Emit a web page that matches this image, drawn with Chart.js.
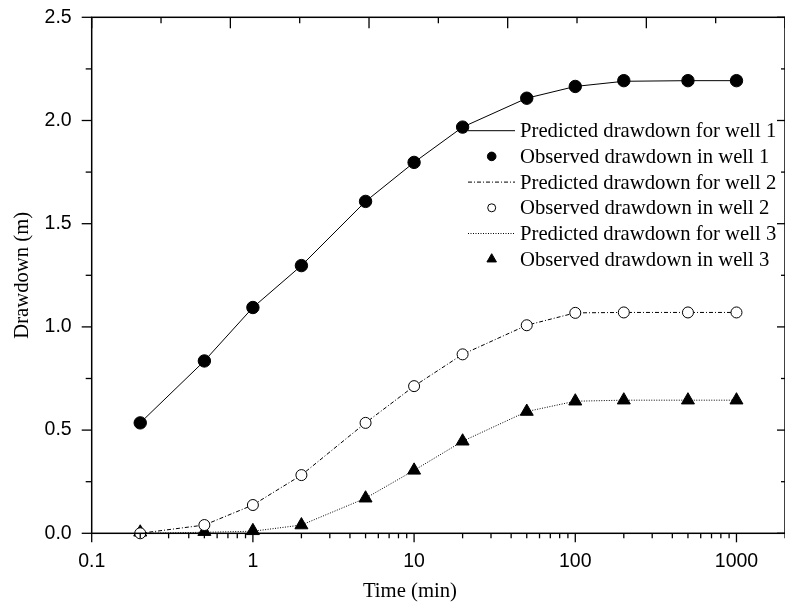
<!DOCTYPE html>
<html>
<head>
<meta charset="utf-8">
<script src="https://cdn.jsdelivr.net/npm/chart.js@4.4.1/dist/chart.umd.min.js"></script>
<style>
  html, body { margin: 0; padding: 0; background: #fff; overflow: hidden; }
  canvas { display: block; }
</style>
</head>
<body>
<canvas id="chart" width="785" height="603"></canvas>
<script>
// Time (min) of each reading
const times = [0.2, 0.5, 1, 2, 5, 10, 20, 50, 100, 200, 500, 1000];

// Drawdown (m)
const predicted1 = [0.535, 0.835, 1.094, 1.297, 1.608, 1.797, 1.968, 2.108, 2.165, 2.19, 2.193, 2.193];
const observed1  = [0.535, 0.835, 1.094, 1.297, 1.608, 1.797, 1.968, 2.108, 2.165, 2.193, 2.193, 2.193];
const predicted2 = [0.0, 0.04, 0.137, 0.282, 0.535, 0.713, 0.867, 1.008, 1.068, 1.07, 1.07, 1.07];
const observed2  = [0.0, 0.04, 0.137, 0.282, 0.535, 0.713, 0.867, 1.008, 1.068, 1.07, 1.07, 1.07];
const predicted3 = [0.0, 0.005, 0.01, 0.04, 0.17, 0.305, 0.446, 0.59, 0.64, 0.645, 0.645, 0.645];
const observed3  = [0.005, 0.008, 0.012, 0.04, 0.17, 0.305, 0.446, 0.59, 0.64, 0.645, 0.645, 0.645];

const xTicks = [0.1, 1, 10, 100, 1000];
const yTicks = [0, 0.5, 1, 1.5, 2, 2.5];

const toPoints = (vals) => vals.map((v, i) => ({ x: times[i], y: v }));

const SERIF = '"Liberation Serif", "Times New Roman", serif';
const SANS = '"Liberation Sans", Arial, sans-serif';
const TEXT_PX = 20.7;

// frame, tick marks (out on bottom/left, in on top/right), axis titles and legend
const decorations = {
  id: 'decorations',
  afterDraw(chart) {
    const { ctx, chartArea: a, scales } = chart;
    const xs = scales.x, ys = scales.y;
    ctx.save();
    ctx.strokeStyle = '#000';
    ctx.lineWidth = 1.5;
    ctx.strokeRect(a.left, a.top, a.right - a.left, a.bottom - a.top);

    ctx.lineWidth = 1.3;
    const line = (x1, y1, x2, y2) => {
      ctx.beginPath(); ctx.moveTo(x1, y1); ctx.lineTo(x2, y2); ctx.stroke();
    };

    // bottom: log ticks
    for (let d = 0.1; d < 2000; d *= 10) {
      for (let m = 1; m <= 9; m++) {
        const v = d * m;
        if (v > xs.max) break;
        const px = xs.getPixelForValue(v);
        line(px, a.bottom, px, a.bottom + (m === 1 ? 9 : 5));
      }
    }
    // top: plain linear divisions, pointing in
    for (let i = 0; i <= 10; i++) {
      const px = a.left + (a.right - a.left) * i / 10;
      line(px, a.top, px, a.top + (i % 2 === 0 ? 11 : 6));
    }
    // left / right
    for (let v = 0; v <= 2.5001; v += 0.25) {
      const py = ys.getPixelForValue(v);
      const major = Math.abs(v * 2 - Math.round(v * 2)) < 1e-6;
      line(a.left - (major ? 10 : 6), py, a.left, py);
      line(a.right - (major ? 8 : 4), py, a.right, py);
    }

    // axis titles
    ctx.fillStyle = '#000';
    ctx.font = TEXT_PX + 'px ' + SERIF;
    ctx.textAlign = 'center';
    ctx.textBaseline = 'alphabetic';
    ctx.fillText('Time (min)', a.left + (a.right - a.left) * 0.459, 596.5);
    ctx.save();
    ctx.translate(28.3, (a.top + a.bottom) / 2);
    ctx.rotate(-Math.PI / 2);
    ctx.fillText('Drawdown (m)', 0, 0);
    ctx.restore();

    // legend
    const lx1 = 468, lx2 = 515, mx = 491.7, tx = 520;
    const rowTop = 130.7, rowH = 25.7;
    chart.data.datasets.forEach((ds, i) => {
      const cy = rowTop + i * rowH;
      ctx.save();
      if (ds.showLine === false) {
        ctx.fillStyle = ds.backgroundColor;
        ctx.strokeStyle = ds.borderColor;
        ctx.lineWidth = ds.borderWidth;
        Chart.helpers.drawPoint(ctx, {
          pointStyle: ds.pointStyle, rotation: 0,
          radius: ds.legendRadius, borderWidth: ds.borderWidth
        }, mx, cy);
      } else {
        ctx.strokeStyle = ds.borderColor;
        ctx.lineWidth = ds.borderWidth;
        ctx.setLineDash(ds.borderDash || []);
        line(lx1, cy, lx2, cy);
      }
      ctx.restore();
      ctx.fillStyle = '#000';
      ctx.font = TEXT_PX + 'px ' + SERIF;
      ctx.textAlign = 'left';
      ctx.textBaseline = 'alphabetic';
      ctx.fillText(ds.label, tx, cy + 6.6);
    });
    ctx.restore();
  }
};

const predicted = (label, data, dash) => ({
  label, data: toPoints(data), order: 1,
  borderColor: '#000', borderWidth: 1, borderDash: dash,
  pointRadius: 0, fill: false, tension: 0, clip: false
});
const observed = (label, data, style, fillColor, r, legendR) => ({
  label, data: toPoints(data), order: 0, showLine: false,
  pointStyle: style, pointRadius: r, pointHoverRadius: r,
  backgroundColor: fillColor, borderColor: '#000', borderWidth: 1,
  pointBackgroundColor: fillColor, pointBorderColor: '#000', pointBorderWidth: 1,
  legendRadius: legendR, clip: false
});

new Chart(document.getElementById('chart'), {
  type: 'line',
  data: {
    datasets: [
      predicted('Predicted drawdown for well 1', predicted1, []),
      observed('Observed drawdown in well 1', observed1, 'circle', '#000', 6.2, 4.3),
      predicted('Predicted drawdown for well 2', predicted2, [4, 2, 1, 2]),
      observed('Observed drawdown in well 2', observed2, 'circle', '#fff', 5.5, 4),
      predicted('Predicted drawdown for well 3', predicted3, [1, 1.5]),
      observed('Observed drawdown in well 3', observed3, 'triangle', '#000', 7.5, 5.5)
    ]
  },
  plugins: [decorations],
  options: {
    responsive: false,
    animation: false,
    devicePixelRatio: 1,
    // right edge of the frame sits just past the canvas, as in the source
    layout: { autoPadding: false, padding: { top: 17.3, right: -1.7, left: 0, bottom: 0 } },
    plugins: { legend: { display: false }, tooltip: { enabled: false } },
    scales: {
      x: {
        type: 'logarithmic',
        min: 0.1, max: 2000,
        grid: { display: false, drawTicks: false },
        border: { display: false },
        afterBuildTicks: (s) => { s.ticks = xTicks.map(v => ({ value: v })); },
        afterFit: (s) => {
          s.height = 69.7;
          s.paddingLeft = 0; s.paddingRight = 0;
        },
        ticks: {
          padding: 17, color: '#000', maxRotation: 0, autoSkip: false,
          font: { family: SANS, size: 19.5 },
          callback: (v) => String(v)
        }
      },
      y: {
        type: 'linear',
        min: 0, max: 2.5,
        grid: { display: false, drawTicks: false },
        border: { display: false },
        afterBuildTicks: (s) => { s.ticks = yTicks.map(v => ({ value: v })); },
        afterFit: (s) => {
          s.width = 91.7;
          s.paddingTop = 0; s.paddingBottom = 0;
        },
        ticks: {
          padding: 20, color: '#000',
          font: { family: SANS, size: 19.5 },
          callback: (v) => Number(v).toFixed(1)
        }
      }
    }
  }
});
</script>
</body>
</html>
